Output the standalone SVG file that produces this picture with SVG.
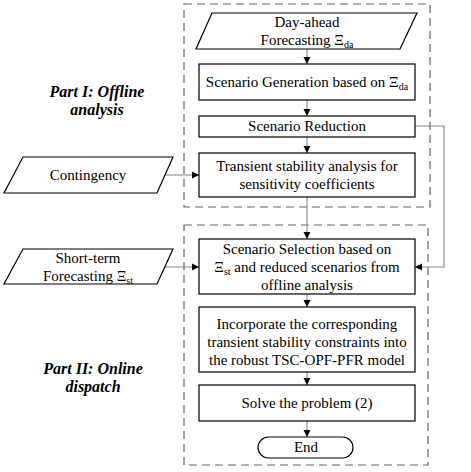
<svg xmlns="http://www.w3.org/2000/svg" width="471" height="472" viewBox="0 0 471 472">
<defs>
<marker id="ah" markerUnits="userSpaceOnUse" markerWidth="8" markerHeight="8" refX="7" refY="4" orient="auto">
<path d="M0,0.5 L7,4 L0,7.5 Z" fill="#000"/>
</marker>
<style>
.t{font-size:15px;fill:#000;text-anchor:middle}
.s{font-size:10px}
.lab{font-size:16px;font-weight:bold;font-style:italic;fill:#000;text-anchor:middle}
.box{fill:#fff;stroke:#000;stroke-width:1.2}
.dash{fill:none;stroke:#666;stroke-width:1.2;stroke-dasharray:8,5}
.con{fill:none;stroke:#888;stroke-width:1.1;marker-end:url(#ah)}
</style>
</defs>
<rect width="471" height="472" fill="#fff"/>
<g font-family="Liberation Serif, Times New Roman, Tinos, DejaVu Serif, serif">
<g id="part1"><rect class="dash" x="184" y="4" width="246" height="203"/></g>
<g id="part2"><rect class="dash" x="184" y="225" width="244" height="240"/></g>
<g id="label1"><text class="lab" x="97" y="97">Part I:  Offline</text><text class="lab" x="97" y="115">analysis</text></g>
<g id="label2"><text class="lab" x="93" y="374">Part II: Online</text><text class="lab" x="93" y="392">dispatch</text></g>
<g id="connectors">
<path class="con" d="M307,49 V64"/>
<path class="con" d="M307,100 V116"/>
<path class="con" d="M307,137 V153"/>
<path class="con" d="M307,197 V239"/>
<path class="con" d="M307,294 V307"/>
<path class="con" d="M307,372 V385"/>
<path class="con" d="M307,421 V437"/>
<path class="con" d="M415,126 H444 V267 H415"/>
<path class="con" d="M165,175 H199"/>
<path class="con" d="M165,267 H199"/>
</g>
<g id="dayahead"><path class="box" d="M212,13 H417 L400,49 H196 Z"/>
<text class="t" x="307" y="27">Day-ahead</text>
<text class="t" x="307" y="45">Forecasting Ξ<tspan class="s" dy="3">da</tspan></text></g>
<g id="generation"><rect class="box" x="199" y="64" width="216" height="36"/>
<text class="t" x="307" y="87">Scenario Generation based on Ξ<tspan class="s" dy="3">da</tspan></text></g>
<g id="reduction"><rect class="box" x="199" y="116" width="216" height="21"/>
<text class="t" x="307" y="131">Scenario Reduction</text></g>
<g id="transient"><rect class="box" x="199" y="153" width="216" height="44"/>
<text class="t" x="307" y="171">Transient stability analysis for</text>
<text class="t" x="307" y="189">sensitivity coefficients</text></g>
<g id="contingency"><path class="box" d="M23,157 H173 L157,193 H4 Z"/>
<text class="t" x="88" y="180">Contingency</text></g>
<g id="shortterm"><path class="box" d="M23,249 H173 L157,284 H4 Z"/>
<text class="t" x="88" y="263">Short-term</text>
<text class="t" x="88" y="281">Forecasting Ξ<tspan class="s" dy="3">st</tspan></text></g>
<g id="selection"><rect class="box" x="199" y="239" width="216" height="55"/>
<text class="t" x="307" y="254">Scenario Selection based on</text>
<text class="t" x="307" y="272">Ξ<tspan class="s" dy="3">st</tspan><tspan dy="-3"> and reduced scenarios from</tspan></text>
<text class="t" x="307" y="290">offline analysis</text></g>
<g id="incorporate"><rect class="box" x="199" y="307" width="216" height="65"/>
<text class="t" x="307" y="329">Incorporate the corresponding</text>
<text class="t" x="307" y="347">transient stability constraints into</text>
<text class="t" x="307" y="365">the robust TSC-OPF-PFR model</text></g>
<g id="solve"><rect class="box" x="199" y="385" width="216" height="36"/>
<text class="t" x="307" y="408">Solve the problem (2)</text></g>
<g id="end"><rect class="box" x="258" y="437" width="95" height="21" rx="10.5"/>
<text class="t" x="306" y="452">End</text></g>
</g>
</svg>
